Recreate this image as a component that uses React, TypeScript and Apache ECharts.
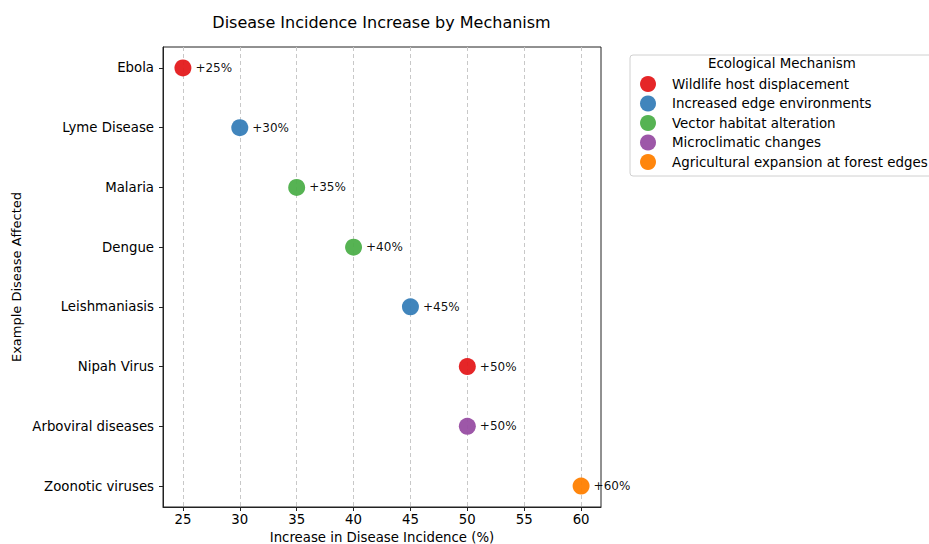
import React, { useEffect, useRef } from "react";
import * as echarts from "echarts";

const diseases = [
  "Ebola",
  "Lyme Disease",
  "Malaria",
  "Dengue",
  "Leishmaniasis",
  "Nipah Virus",
  "Arboviral diseases",
  "Zoonotic viruses",
];
const increases = [25, 30, 35, 40, 45, 50, 50, 60];
const diseaseMechanism = [
  "Wildlife host displacement",
  "Increased edge environments",
  "Vector habitat alteration",
  "Vector habitat alteration",
  "Increased edge environments",
  "Wildlife host displacement",
  "Microclimatic changes",
  "Agricultural expansion at forest edges",
];
const mechanisms = [
  "Wildlife host displacement",
  "Increased edge environments",
  "Vector habitat alteration",
  "Microclimatic changes",
  "Agricultural expansion at forest edges",
];
const mechanismColors = ["#e41a1c", "#377eb8", "#4daf4a", "#984ea3", "#ff7f00"];
const xTicks = [25, 30, 35, 40, 45, 50, 55, 60];
const yTicks = [0, 1, 2, 3, 4, 5, 6, 7];

const FONT = "DejaVu Sans";
const FS = 13.3;

export default function App() {
  const ref = useRef<HTMLDivElement>(null);
  useEffect(() => {
    if (!ref.current) return;
    const chart = echarts.init(ref.current, null, { renderer: "svg" });
    const series = mechanisms.map((m, mi) => ({
      name: m,
      type: "scatter",
      symbol: "circle",
      symbolSize: 17,
      itemStyle: { color: mechanismColors[mi], opacity: 0.95 },
      label: {
        show: true,
        position: "right",
        distance: 4,
        fontFamily: FONT,
        fontSize: 12,
        color: "#000",
        formatter: (p: any) => "+" + p.value[0] + "%",
      },
      data: diseases
        .map((d, i) => ({ d, i }))
        .filter((o) => diseaseMechanism[o.i] === m)
        .map((o) => [increases[o.i], o.i]),
    }));
    chart.setOption({
      animation: false,
      textStyle: { fontFamily: FONT },
      title: {
        text: "Disease Incidence Increase by Mechanism",
        left: 376.5,
        top: 9,
        textAlign: "center",
        textStyle: { fontFamily: FONT, fontSize: 16, fontWeight: "normal", color: "#000" },
      },
      grid: {
        left: 163,
        top: 47,
        width: 438,
        height: 460,
        show: true,
        borderColor: "#222",
        borderWidth: 1,
        backgroundColor: "transparent",
        outerBoundsMode: "none",
        containLabel: false,
      },
      xAxis: {
        type: "value",
        min: 23.25,
        max: 61.75,
        minInterval: 5,
        maxInterval: 5,
        name: "Increase in Disease Incidence (%)",
        nameLocation: "middle",
        nameGap: 21,
        nameTextStyle: { fontFamily: FONT, fontSize: FS, color: "#000" },
        axisLine: { show: true, onZero: false, lineStyle: { color: "#222" } },
        axisTick: { show: true, length: 4, customValues: xTicks, lineStyle: { color: "#222" } },
        axisLabel: {
          customValues: xTicks,
          fontFamily: FONT,
          fontSize: FS,
          color: "#000",
          margin: 6,
        },
        splitLine: { show: true, lineStyle: { color: "#c8c8c8", type: [4, 3], width: 1 } },
      },
      yAxis: {
        type: "value",
        inverse: true,
        min: -0.35,
        max: 7.35,
        minInterval: 1,
        maxInterval: 1,
        name: "Example Disease Affected",
        nameLocation: "middle",
        nameGap: 140,
        nameTextStyle: { fontFamily: FONT, fontSize: 13, color: "#000" },
        axisLine: { show: true, onZero: false, lineStyle: { color: "#222" } },
        axisTick: { show: true, length: 4, customValues: yTicks, lineStyle: { color: "#222" } },
        axisLabel: {
          customValues: yTicks,
          fontFamily: FONT,
          fontSize: FS,
          color: "#000",
          margin: 9,
          formatter: (v: number) => (Number.isInteger(v) && diseases[v] ? diseases[v] : ""),
        },
        splitLine: { show: false },
      },
      legend: {
        orient: "vertical",
        left: 630,
        top: 55,
        padding: [21, 10, 6, 10],
        itemGap: 3.5,
        itemWidth: 16,
        itemHeight: 16,
        icon: "circle",
        borderColor: "#d0d0d0",
        borderWidth: 1,
        borderRadius: 3,
        data: mechanisms,
        textStyle: { fontFamily: FONT, fontSize: 13.4, color: "#000", padding: [0, 0, 0, 11] },
      },
      graphic: [
        {
          type: "text",
          left: 708,
          top: 57,
          style: {
            text: "Ecological Mechanism",
            fontFamily: FONT,
            fontSize: 13.4,
            fill: "#000",
          },
        },
      ],
      series,
    });
    return () => chart.dispose();
  }, []);
  return (
    <div
      ref={ref}
      style={{ position: "absolute", left: 0, top: 0, width: 929, height: 544 }}
    />
  );
}
